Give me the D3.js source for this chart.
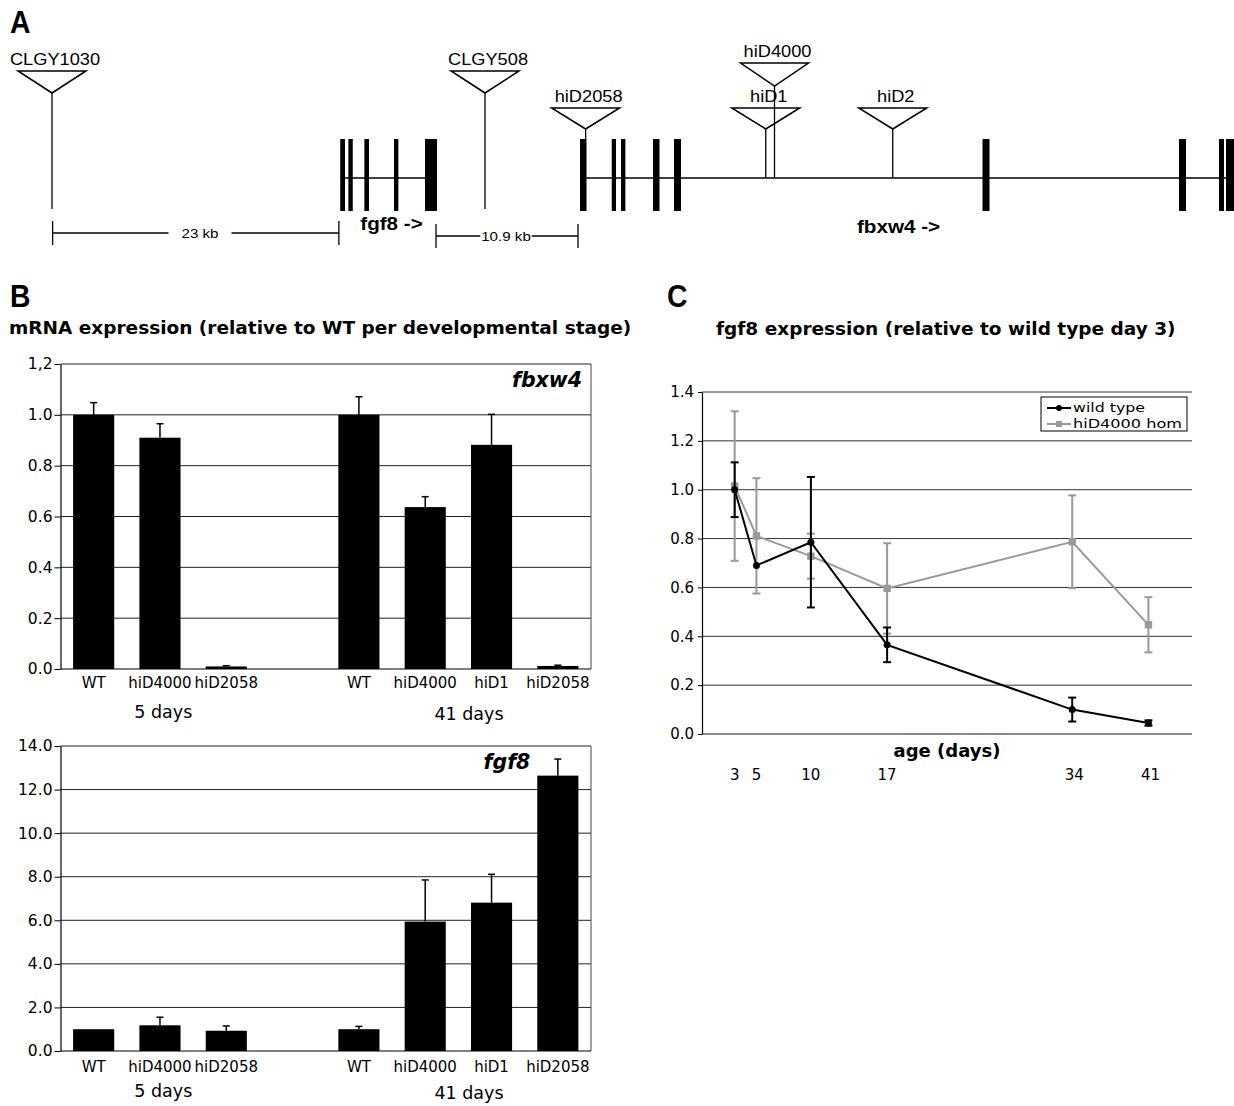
<!DOCTYPE html>
<html><head><meta charset="utf-8">
<script src="https://cdn.jsdelivr.net/npm/d3@7"></script>
<style>body{margin:0;background:#fff} svg{display:block}</style>
</head><body><svg id="fig" width="1234" height="1106"></svg>
<script>
// ================= DATA =================
// Panel A : genomic positions in kb (0 = CLGY1030 insertion)
const fgf8Exons = [[23.06,23.44],[23.71,24.06],[24.99,25.36],[27.36,27.71],[29.84,30.80]];
const fbxw4Exons = [[42.24,42.76],[44.78,45.12],[45.52,45.87],[48.08,48.60],[49.76,50.32],[74.44,75.00],[90.16,90.72],[93.36,93.76],[93.92,94.56]];
const genes = [
  {label:"fgf8 ->", start:23.06, end:30.80, labelAt:27.16},
  {label:"fbxw4 ->", start:42.48, end:94.56, labelAt:67.72}
];
const insertionNames = ["CLGY1030","CLGY508","hiD2058","hiD4000","hiD1","hiD2"];
const insertionPos   = [0, 34.64, 42.69, 57.80, 57.10, 67.26];
const insertionTier  = ["mid","mid","low","high","low","low"];
const insertionSite  = ["free","free","exon","intron","intron","intron"];
const scaleBarLabels = ["23 kb","10.9 kb"];
const scaleBarStart  = [0.05, 30.72];
const scaleBarEnd    = [22.95, 42.08];

// Panel B
const bCategories = ["WT","hiD4000","hiD2058","","WT","hiD4000","hiD1","hiD2058"];
const stageLabels = ["5 days","41 days"];
const stageCenters = [1.05, 5.66]; // in category-index units
const fbxw4Values = [1.00, 0.91, 0.010, null, 1.00, 0.637, 0.882, 0.012];
const fbxw4Errors = [0.048, 0.055, 0.003, null, 0.071, 0.041, 0.120, 0.003];
const fbxw4Ticks = [0,0.2,0.4,0.6,0.8,1.0,1.2];
const fbxw4TickLabels = ["0.0","0.2","0.4","0.6","0.8","1.0","1,2"];
const fgf8Values = [1.00, 1.18, 0.93, null, 1.00, 5.94, 6.81, 12.64];
const fgf8Errors = [0, 0.37, 0.22, null, 0.13, 1.91, 1.30, 0.76];
const fgf8Ticks = [0,2,4,6,8,10,12,14];
const fgf8TickLabels = ["0.0","2.0","4.0","6.0","8.0","10.0","12.0","14.0"];

// Panel C
const ageDays = [3,5,10,17,34,41];
const wtMean = [1.000, 0.690, 0.785, 0.365, 0.100, 0.045];
const wtErr  = [0.112, 0, 0.267, 0.071, 0.049, 0.011];
const homMean = [1.015, 0.811, 0.728, 0.596, 0.787, 0.447];
const homErr  = [0.306, 0.236, 0.092, 0.185, 0.190, 0.113];
const cTicks = [0,0.2,0.4,0.6,0.8,1.0,1.2,1.4];
const cTickLabels = ["0.0","0.2","0.4","0.6","0.8","1.0","1.2","1.4"];
const seriesNames = ["wild type","hiD4000 hom"];

// ================= DRAW =================
const svg = d3.select("#fig");
svg.append("rect").attr("width",1234).attr("height",1106).attr("fill","#fff");
const VERD = "'DejaVu Sans', Verdana, sans-serif";
const ARIAL = "'Liberation Sans', Arial, sans-serif";

function panelLetter(t,x,y){
  svg.append("text").attr("transform",`translate(${x},${y}) scale(1.05,1.15)`).text(t)
    .style("font-family",ARIAL).style("font-weight","bold").style("font-size","27px");
}
panelLetter("A",10,33); panelLetter("B",10,307); panelLetter("C",667,307);

// ---------- Panel A ----------
const gA = svg.append("g");
const xA = d3.scaleLinear().domain([0,94.56]).range([52,1234]);
const SX = 1.14;
function sText(g,x,y,t,size,weight,anchor,sx){
  return g.append("text").attr("transform",`translate(${x},${y}) scale(${sx||SX},1)`)
    .attr("text-anchor",anchor||"middle").text(t)
    .style("font-family",ARIAL).style("font-size",size+"px").style("font-weight",weight||"normal");
}
const intronY = 178, exonTop = 139, exonBot = 211;
genes.forEach(g=>{
  gA.append("line").attr("x1",xA(g.start)).attr("x2",xA(g.end)).attr("y1",intronY).attr("y2",intronY)
    .attr("stroke","#000").attr("stroke-width",1.5);
});
gA.selectAll("rect.exon").data(fgf8Exons.concat(fbxw4Exons)).enter().append("rect")
  .attr("x",d=>xA(d[0])).attr("width",d=>xA(d[1])-xA(d[0]))
  .attr("y",exonTop).attr("height",exonBot-exonTop).attr("fill","#000");
const tierTop = {high:63, mid:71, low:108};
const triH = {high:23, mid:22, low:21};
const siteEnd = {free:209, exon:exonTop, intron:intronY};
insertionNames.forEach((n,i)=>{
  const x = xA(insertionPos[i]);
  const top = tierTop[insertionTier[i]], apex = top + triH[insertionTier[i]];
  gA.append("line").attr("x1",x).attr("x2",x).attr("y1",apex).attr("y2",siteEnd[insertionSite[i]])
    .attr("stroke","#000").attr("stroke-width",1.3);
  gA.append("path").attr("d",`M${x-34},${top}L${x+34},${top}L${x},${apex}Z`)
    .attr("fill","none").attr("stroke","#000").attr("stroke-width",1.5);
  sText(gA,x+3,top-6,n,16);
});
genes.forEach((g,i)=>{
  sText(gA,xA(g.labelAt),i===0?230:233,g.label,17.5,"bold","middle",1.18);
});
scaleBarLabels.forEach((lab,i)=>{
  const x1 = xA(scaleBarStart[i]), x2 = xA(scaleBarEnd[i]);
  const y = i===0?233:236;
  const cx = i===0 ? 200 : 506;
  const t = sText(gA,cx,y+4.5,lab,13.5,"normal","middle",1.12);
  const w = t.node().getComputedTextLength()*1.12;
  const pad = i===0?13:1;
  gA.append("line").attr("x1",x1).attr("x2",cx-w/2-pad).attr("y1",y).attr("y2",y).attr("stroke","#000").attr("stroke-width",1.3);
  gA.append("line").attr("x1",cx+w/2+pad).attr("x2",x2).attr("y1",y).attr("y2",y).attr("stroke","#000").attr("stroke-width",1.3);
  [x1,x2].forEach(xx=>gA.append("line").attr("x1",xx).attr("x2",xx).attr("y1",y-12).attr("y2",y+12).attr("stroke","#000").attr("stroke-width",1.3));
});

// ---------- Panel B ----------
svg.append("text").attr("x",9).attr("y",334).text("mRNA expression (relative to WT per developmental stage)")
  .style("font-family",VERD).style("font-weight","bold").style("font-size","18.5px");

function barChart(values, errors, ticks, tickLabels, top, bottom, geneLabel, geneX, geneAnchor, labY, stageY){
  const left = 60.5, right = 591;
  const g = svg.append("g");
  const x = d3.scaleBand().domain(d3.range(bCategories.length)).range([left,right]).paddingInner(0.38).paddingOuter(0.19);
  const y = d3.scaleLinear().domain([0, d3.max(ticks)]).range([bottom, top]);
  g.selectAll("line.grid").data(ticks.filter(t=>t>0)).enter().append("line")
    .attr("x1",left).attr("x2",right).attr("y1",d=>y(d)).attr("y2",d=>y(d))
    .attr("stroke","#222").attr("stroke-width",1);
  g.append("line").attr("x1",right).attr("x2",right).attr("y1",top).attr("y2",bottom).attr("stroke","#444").attr("stroke-width",1);
  const idx = d3.range(bCategories.length).filter(i=>values[i]!=null);
  g.selectAll("rect.bar").data(idx).enter().append("rect")
    .attr("x",i=>x(i)).attr("width",x.bandwidth())
    .attr("y",i=>y(values[i])).attr("height",i=>y(0)-y(values[i])).attr("fill","#000");
  idx.filter(i=>errors[i]>0).forEach(i=>{
    const cx = x(i)+x.bandwidth()/2;
    g.append("line").attr("x1",cx).attr("x2",cx).attr("y1",y(values[i])).attr("y2",y(values[i]+errors[i])).attr("stroke","#000").attr("stroke-width",1.5);
    g.append("line").attr("x1",cx-3.5).attr("x2",cx+3.5).attr("y1",y(values[i]+errors[i])).attr("y2",y(values[i]+errors[i])).attr("stroke","#000").attr("stroke-width",1.5);
  });
  const ax = g.append("g").attr("transform",`translate(${left},0)`)
    .call(d3.axisLeft(y).tickValues(ticks).tickFormat((d,i)=>tickLabels[i]).tickSize(6).tickSizeOuter(0).tickPadding(2));
  ax.select(".domain").attr("stroke","#000").attr("stroke-width",1.2);
  ax.selectAll(".tick line").attr("stroke","#000");
  ax.selectAll("text").style("font-family",VERD).style("font-size","15.5px").attr("fill","#000");
  g.append("line").attr("x1",left).attr("x2",right).attr("y1",bottom).attr("y2",bottom).attr("stroke","#000").attr("stroke-width",1.2);
  bCategories.forEach((c,i)=>{
    if(!c) return;
    g.append("text").attr("x",x(i)+x.bandwidth()/2).attr("y",labY).attr("text-anchor","middle").text(c)
      .style("font-family",VERD).style("font-size","15px");
  });
  stageLabels.forEach((s,k)=>{
    g.append("text").attr("x",left + x.step()*(stageCenters[k]+0.5)).attr("y",stageY+ (k?2:0)).attr("text-anchor","middle").text(s)
      .style("font-family",VERD).style("font-size","17.5px");
  });
  g.append("text").attr("x",geneX).attr("y",top+23).attr("text-anchor",geneAnchor).text(geneLabel)
    .style("font-family",VERD).style("font-size","20.5px").style("font-weight","bold").style("font-style","italic");
}
barChart(fbxw4Values, fbxw4Errors, fbxw4Ticks, fbxw4TickLabels, 364, 669, "fbxw4", 582, "end", 688, 718);
barChart(fgf8Values, fgf8Errors, fgf8Ticks, fgf8TickLabels, 746, 1051, "fgf8", 507, "middle", 1072, 1097);

// ---------- Panel C ----------
svg.append("text").attr("x",716).attr("y",335).text("fgf8 expression (relative to wild type day 3)")
  .style("font-family",VERD).style("font-weight","bold").style("font-size","18.5px");
const gC = svg.append("g");
const cL = 702, cR = 1192, cT = 392, cB = 734;
const xC = d3.scaleLinear().domain([0,45]).range([cL,cR]);
const yC = d3.scaleLinear().domain([0,1.4]).range([cB,cT]);
gC.selectAll("line.grid").data(cTicks.filter(t=>t>0)).enter().append("line")
  .attr("x1",cL).attr("x2",cR).attr("y1",d=>yC(d)).attr("y2",d=>yC(d)).attr("stroke","#333").attr("stroke-width",1);
gC.append("line").attr("x1",cL).attr("x2",cR).attr("y1",cB).attr("y2",cB).attr("stroke","#666").attr("stroke-width",1.3);
const axC = gC.append("g").attr("transform",`translate(${cL},0)`)
  .call(d3.axisLeft(yC).tickValues(cTicks).tickFormat((d,i)=>cTickLabels[i]).tickSize(4).tickSizeOuter(0).tickPadding(4));
axC.select(".domain").attr("stroke","#000").attr("stroke-width",1.2);
axC.selectAll("text").style("font-family",VERD).style("font-size","15px").attr("fill","#000");
ageDays.forEach(d=>{
  gC.append("text").attr("x",xC(d)+(d>30?2:0)).attr("y",780).attr("text-anchor","middle").text(d)
    .style("font-family",VERD).style("font-size","15px");
});
gC.append("text").attr("x",(cL+cR)/2).attr("y",757).attr("text-anchor","middle").text("age (days)")
  .style("font-family",VERD).style("font-size","18px").style("font-weight","bold");

const series = [
  {name:seriesNames[1], mean:homMean, err:homErr, color:"#999999", marker:"square", lw:2},
  {name:seriesNames[0], mean:wtMean, err:wtErr, color:"#000000", marker:"circle", lw:2}
];
const lineGen = d3.line();
series.forEach(s=>{
  const pts = ageDays.map((d,i)=>[xC(d), yC(s.mean[i])]);
  ageDays.forEach((d,i)=>{
    if(!s.err[i]) return;
    const cx = xC(d), y1 = yC(s.mean[i]-s.err[i]), y2 = yC(s.mean[i]+s.err[i]);
    gC.append("line").attr("x1",cx).attr("x2",cx).attr("y1",y1).attr("y2",y2).attr("stroke",s.color).attr("stroke-width",2);
    [y1,y2].forEach(yy=>gC.append("line").attr("x1",cx-4).attr("x2",cx+4).attr("y1",yy).attr("y2",yy).attr("stroke",s.color).attr("stroke-width",2));
  });
  gC.append("path").attr("d",lineGen(pts)).attr("fill","none").attr("stroke",s.color).attr("stroke-width",s.lw);
  pts.forEach(p=>{
    if(s.marker==="circle") gC.append("circle").attr("cx",p[0]).attr("cy",p[1]).attr("r",3.5).attr("fill",s.color);
    else gC.append("rect").attr("x",p[0]-3.7).attr("y",p[1]-3.7).attr("width",7.4).attr("height",7.4).attr("fill",s.color);
  });
});
// legend
const lg = gC.append("g");
lg.append("rect").attr("x",1041).attr("y",397).attr("width",146).attr("height",34).attr("fill","#fff").attr("stroke","#000").attr("stroke-width",1);
[series[1], series[0]].forEach((s,k)=>{
  const ly = k===0 ? 408 : 424;
  lg.append("line").attr("x1",1047).attr("x2",1071).attr("y1",ly).attr("y2",ly).attr("stroke",s.color).attr("stroke-width",2);
  if(s.marker==="circle") lg.append("circle").attr("cx",1059).attr("cy",ly).attr("r",3).attr("fill",s.color);
  else lg.append("rect").attr("x",1056).attr("y",ly-3).attr("width",6).attr("height",6).attr("fill",s.color);
  lg.append("text").attr("x",1073).attr("y",ly+4).text(s.name)
    .attr("textLength", k===0?72:109).attr("lengthAdjust","spacingAndGlyphs")
    .style("font-family",VERD).style("font-size","12.5px");
});
</script></body></html>
